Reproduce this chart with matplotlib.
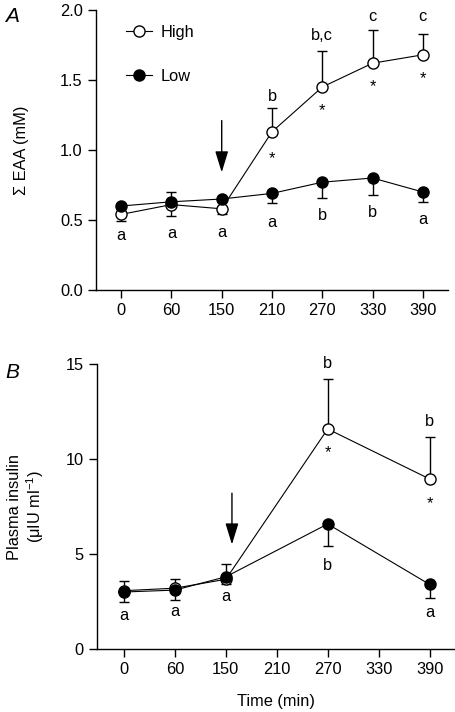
import matplotlib
matplotlib.use("Agg")
import matplotlib.pyplot as plt
from matplotlib.lines import Line2D
import numpy as np

plt.rcParams['font.family'] = ['Liberation Sans', 'DejaVu Sans']
plt.rcParams['mathtext.fontset'] = 'custom'
plt.rcParams['mathtext.rm'] = 'Liberation Sans'
plt.rcParams['mathtext.it'] = 'Liberation Sans:italic'
plt.rcParams['mathtext.default'] = 'regular'
FS = 11.8
plt.rcParams['font.size'] = FS

# ---------------- data ----------------
time_labels = ['0', '60', '150', '210', '270', '330', '390']

# Panel A: sum of EAA (mM)
high_a = [0.54, 0.61, 0.58, 1.13, 1.45, 1.62, 1.68]
high_a_lo = [0.05, 0.08, 0.04, 0.0, 0.0, 0.0, 0.0]
high_a_hi = [0.0, 0.0, 0.0, 0.17, 0.26, 0.24, 0.15]
low_a = [0.60, 0.63, 0.65, 0.69, 0.77, 0.80, 0.70]
low_a_lo = [0.0, 0.0, 0.0, 0.07, 0.11, 0.12, 0.07]
low_a_hi = [0.0, 0.07, 0.0, 0.0, 0.0, 0.0, 0.0]

# Panel B: plasma insulin (uIU/ml)
idx_b = [0, 1, 2, 4, 6]
high_b = [3.07, 3.20, 3.67, 11.58, 8.95]
high_b_lo = [0.0, 0.0, 0.27, 0.0, 0.0]
high_b_hi = [0.53, 0.50, 0.0, 2.62, 2.22]
low_b = [3.00, 3.10, 3.80, 6.58, 3.40]
low_b_lo = [0.50, 0.50, 0.0, 1.14, 0.70]
low_b_hi = [0.0, 0.0, 0.70, 0.0, 0.0]

# annotation letters (x index, y in data units, text)
letters_a = [(0, 0.386, 'a'), (1, 0.40, 'a'), (2, 0.414, 'a'), (3, 0.479, 'a'),
             (4, 0.529, 'b'), (5, 0.55, 'b'), (6, 0.507, 'a'),
             (3, 1.38, 'b'), (4, 1.82, 'b,c'), (5, 1.95, 'c'), (6, 1.95, 'c')]
stars_a = [(3, 0.94), (4, 1.28), (5, 1.45), (6, 1.51)]
letters_b = [(0, 1.74, 'a'), (1, 1.96, 'a'), (2, 2.75, 'a'), (4, 4.37, 'b'),
             (6, 1.91, 'a'), (4, 15.0, 'b'), (6, 11.96, 'b')]
stars_b = [(4, 10.35), (6, 7.65)]

arrow_a = (2.0, 1.21, 0.84)
arrow_b = (2.12, 8.2, 5.5)

# ---------------- figure ----------------
fig = plt.figure(figsize=(4.56, 7.12), dpi=100)
axA = fig.add_axes([96/456, 1-290/712, 352/456, 280/712])
axB = fig.add_axes([97/456, 1-649/712, 358/456, 285/712])

ms = 8
lw = 0.8
ekw = dict(fmt='o', color='black', mec='black', ms=ms, mew=1.0, lw=lw, ls='-',
           capsize=3.5, elinewidth=1.0, capthick=1.0)


def style(ax):
    for s in ['top', 'right']:
        ax.spines[s].set_visible(False)
    for s in ['left', 'bottom']:
        ax.spines[s].set_linewidth(1.0)
    ax.tick_params(direction='out', length=5.5, width=1.0, pad=4, labelsize=FS)


x_a = np.arange(len(time_labels))
axA.errorbar(x_a, high_a, yerr=[high_a_lo, high_a_hi], mfc='white', zorder=3, **ekw)
axA.errorbar(x_a, low_a, yerr=[low_a_lo, low_a_hi], mfc='black', zorder=4, **ekw)
axA.set_xlim(-0.5, 6.5)
axA.set_ylim(0, 2.0)
axA.set_xticks(x_a)
axA.set_xticklabels(time_labels)
axA.set_yticks([0.0, 0.5, 1.0, 1.5, 2.0])
axA.set_yticklabels(['0.0', '0.5', '1.0', '1.5', '2.0'])
style(axA)
axA.set_ylabel('\u03a3 EAA (mM)', fontsize=FS)
axA.yaxis.set_label_coords(-0.19, 0.5)

for x, y, t in letters_a:
    axA.text(x, y, t, ha='center', va='center', fontsize=FS, clip_on=False)
for x, y in stars_a:
    axA.text(x, y, '*', ha='center', va='center', fontsize=FS, clip_on=False)

handles = [Line2D([], [], color='black', lw=lw, marker='o', ms=ms, mfc='white', mec='black'),
           Line2D([], [], color='black', lw=lw, marker='o', ms=ms, mfc='black', mec='black')]
axA.legend(handles, ['High', 'Low'], loc='upper left', bbox_to_anchor=(0.085, 0.947),
           frameon=False, handlelength=1.6, handletextpad=0.5, labelspacing=1.75,
           borderpad=0, borderaxespad=0, fontsize=FS, numpoints=1)

arrowkw = dict(arrowstyle='-|>,head_length=1.3,head_width=0.4', color='black',
               lw=1.0, shrinkA=0, shrinkB=0, mutation_scale=10)
axA.annotate('', xy=(arrow_a[0], arrow_a[2]), xytext=(arrow_a[0], arrow_a[1]),
             arrowprops=arrowkw)

# Panel B
x_b = np.array(idx_b)
axB.errorbar(x_b, high_b, yerr=[high_b_lo, high_b_hi], mfc='white', zorder=3, **ekw)
axB.errorbar(x_b, low_b, yerr=[low_b_lo, low_b_hi], mfc='black', zorder=4, **ekw)
axB.set_xlim(-0.53, 6.5)
axB.set_ylim(0, 15)
axB.set_xticks(x_a)
axB.set_xticklabels(time_labels)
axB.set_yticks([0, 5, 10, 15])
style(axB)
axB.set_ylabel('Plasma insulin\n(\u03bcIU ml$^{-1}$)', fontsize=FS, linespacing=1.15)
axB.yaxis.set_label_coords(-0.142, 0.5)
axB.set_xlabel('Time (min)', fontsize=FS, labelpad=12)

for x, y, t in letters_b:
    axB.text(x, y, t, ha='center', va='center', fontsize=FS, clip_on=False)
for x, y in stars_b:
    axB.text(x, y, '*', ha='center', va='center', fontsize=FS, clip_on=False)

axB.annotate('', xy=(arrow_b[0], arrow_b[2]), xytext=(arrow_b[0], arrow_b[1]),
             arrowprops=arrowkw)

fig.text(12/456, 1-16/712, 'A', fontsize=15, style='italic', ha='center', va='center')
fig.text(12/456, 1-372/712, 'B', fontsize=15, style='italic', ha='center', va='center')

fig.savefig('out.png', dpi=100)
